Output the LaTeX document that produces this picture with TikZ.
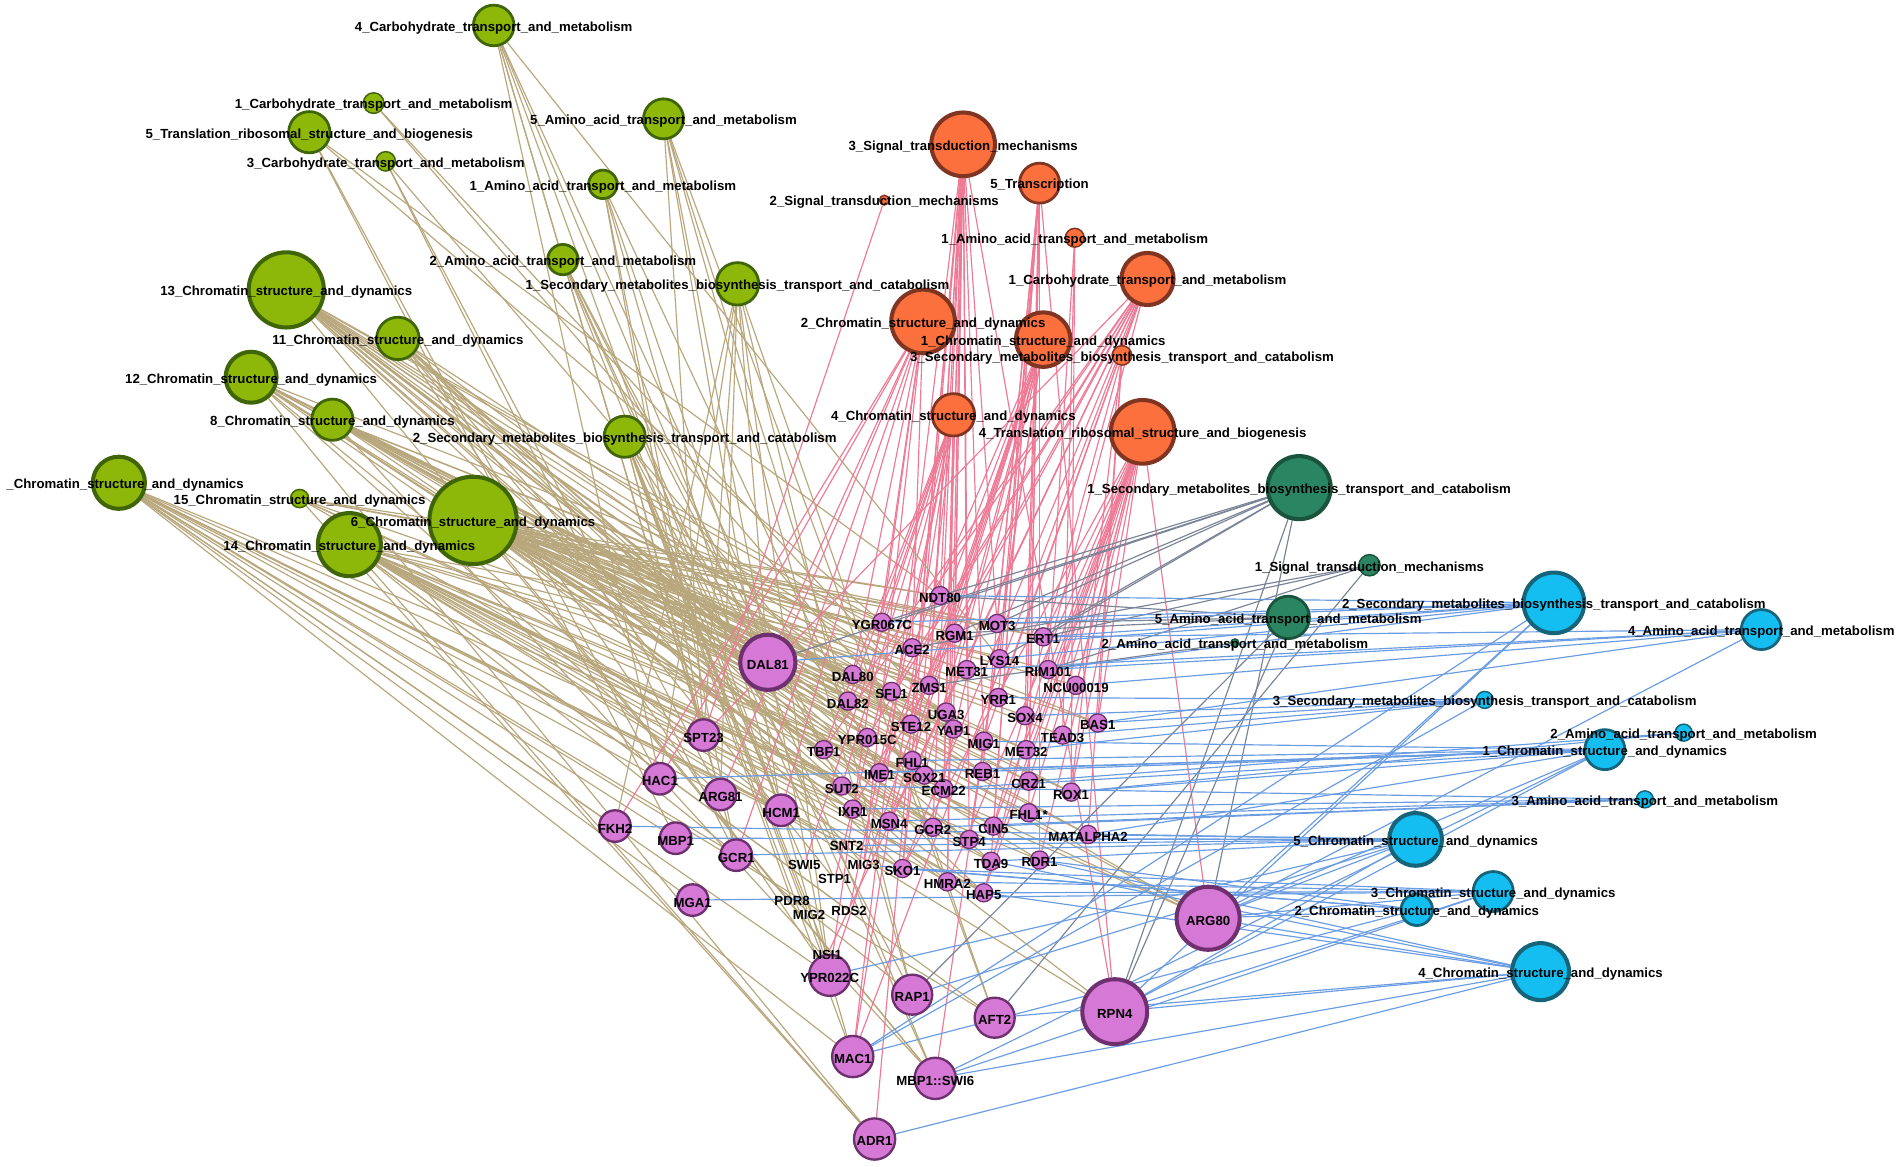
\documentclass[tikz,border=0pt]{standalone}
\usepackage{fontspec}
\setmainfont{Liberation Sans}
\usepackage{tikz}

\definecolor{catgreen}{RGB}{141,184,10}
\definecolor{catgreenrim}{RGB}{64,100,8}
\definecolor{catorange}{RGB}{252,112,62}
\definecolor{catorangerim}{RGB}{128,52,34}
\definecolor{catdark}{RGB}{42,134,98}
\definecolor{catdarkrim}{RGB}{26,84,60}
\definecolor{catblue}{RGB}{20,190,240}
\definecolor{catbluerim}{RGB}{22,100,122}
\definecolor{tfpink}{RGB}{214,120,214}
\definecolor{tfrim}{RGB}{110,48,110}
\definecolor{edgetan}{RGB}{184,166,124}
\definecolor{edgepink}{RGB}{238,122,150}
\definecolor{edgeblue}{RGB}{106,156,226}
\definecolor{edgegray}{RGB}{122,132,150}

\pgfdeclarelayer{edges}
\pgfdeclarelayer{labels}
\pgfsetlayers{edges,main,labels}

\begin{document}
\begin{tikzpicture}[x=0.02cm,y=-0.02cm,font=\fontsize{6.2}{7.4}\selectfont\bfseries]
    \tikzstyle{greencat} = [circle, inner sep=0pt,
fill=catgreen, draw=catgreenrim, line width=1.3pt]
    \tikzstyle{orangecat} = [circle, inner sep=0pt,
fill=catorange, draw=catorangerim, line width=1.3pt]
    \tikzstyle{darkcat} = [circle, inner sep=0pt,
fill=catdark, draw=catdarkrim, line width=1.3pt]
    \tikzstyle{bluecat} = [circle, inner sep=0pt,
fill=catblue, draw=catbluerim, line width=1.3pt]
    \tikzstyle{tf} = [circle, inner sep=0pt,
minimum size=0.52cm,
fill=tfpink, draw=tfrim, line width=1.1pt]
    \tikzstyle{tfsmall} = [tf, minimum size=0.30cm, line width=0.6pt]
    \tikzstyle{heavy} = [line width=1.9pt]
    \tikzstyle{thin} = [line width=0.7pt]
    \tikzstyle{tag} = [inner sep=0pt, yshift=-0.04cm]
    \tikzstyle{tanline} = [draw=edgetan, line width=0.55pt]
    \tikzstyle{pinkline} = [draw=edgepink, line width=0.55pt]
    \tikzstyle{grayline} = [draw=edgegray, line width=0.55pt]
    \tikzstyle{blueline} = [draw=edgeblue, line width=0.55pt]

\useasboundingbox (0,0) rectangle (1568,962);

% green topics
\node (g4carb) [greencat, minimum size=0.67cm] at (407,21) {};
\node (g1carb) [greencat, thin, minimum size=0.34cm] at (308,85) {};
\node (g5trans) [greencat, minimum size=0.68cm] at (255,109) {};
\node (g3carb) [greencat, thin, minimum size=0.32cm] at (318,133) {};
\node (g5amino) [greencat, minimum size=0.66cm] at (547,98) {};
\node (g1amino) [greencat, minimum size=0.47cm] at (497,152) {};
\node (g2amino) [greencat, minimum size=0.50cm] at (464,214) {};
\node (g1sec) [greencat, minimum size=0.70cm] at (608,234) {};
\node (g13chr) [greencat, heavy, minimum size=1.24cm] at (236,239) {};
\node (g11chr) [greencat, minimum size=0.70cm] at (328,279) {};
\node (g12chr) [greencat, heavy, minimum size=0.84cm] at (207,311) {};
\node (g8chr) [greencat, minimum size=0.68cm] at (274,346) {};
\node (g2sec) [greencat, minimum size=0.68cm] at (515,360) {};
\node (gXchr) [greencat, heavy, minimum size=0.86cm] at (98,398) {};
\node (g15chr) [greencat, thin, minimum size=0.30cm] at (247,411) {};
\node (g6chr) [greencat, heavy, minimum size=1.44cm] at (390,429) {};
\node (g14chr) [greencat, heavy, minimum size=1.04cm] at (288,449) {};

% orange topics
\node (o3signal) [orangecat, heavy, minimum size=1.05cm] at (794,119) {};
\node (o5trans) [orangecat, minimum size=0.66cm] at (857,151) {};
\node (o2signal) [orangecat, thin, minimum size=0.16cm] at (729,165) {};
\node (o1amino) [orangecat, thin, minimum size=0.31cm] at (886,196) {};
\node (o1carb) [orangecat, heavy, minimum size=0.86cm] at (946,230) {};
\node (o2chr) [orangecat, heavy, minimum size=1.05cm] at (761,265) {};
\node (o1chr) [orangecat, heavy, minimum size=0.90cm] at (860,280) {};
\node (o3sec) [orangecat, thin, minimum size=0.32cm] at (925,293) {};
\node (o4chr) [orangecat, minimum size=0.70cm] at (786,342) {};
\node (o4trans) [orangecat, heavy, minimum size=1.05cm] at (942,356) {};

% dark green topics
\node (d1second) [darkcat, heavy, minimum size=1.04cm] at (1071,402) {};
\node (d2signal) [darkcat, thin, minimum size=0.35cm] at (1129,466) {};
\node (d3amino) [darkcat, minimum size=0.70cm] at (1062,509) {};
\node (d4amino) [darkcat, thin, minimum size=0.13cm] at (1018,530) {};

% blue topics
\node (b2second) [bluecat, heavy, minimum size=1.00cm] at (1281,497) {};
\node (b4amino) [bluecat, minimum size=0.66cm] at (1452,519) {};
\node (b3second) [bluecat, thin, minimum size=0.28cm] at (1224,577) {};
\node (b2amino) [bluecat, thin, minimum size=0.28cm] at (1388,604) {};
\node (b1chrom) [bluecat, minimum size=0.66cm] at (1323,618) {};
\node (b3amino) [bluecat, thin, minimum size=0.28cm] at (1356,659) {};
\node (b5chrom) [bluecat, heavy, minimum size=0.87cm] at (1167,692) {};
\node (b3chrom) [bluecat, minimum size=0.66cm] at (1231,735) {};
\node (b2chrom) [bluecat, minimum size=0.52cm] at (1168,750) {};
\node (b4chrom) [bluecat, heavy, minimum size=0.94cm] at (1270,801) {};

% regulators
\node (DAL81) [tf, heavy, minimum size=0.91cm] at (633,546) {};
\node (ARG80) [tf, heavy, minimum size=1.04cm] at (996,757) {};
\node (RPN4) [tf, heavy, minimum size=1.07cm] at (919,834) {};
\node (YPR022C) [tf, minimum size=0.68cm] at (684,804) {};
\node (RAP1) [tf, minimum size=0.66cm] at (752,820) {};
\node (AFT2) [tf, minimum size=0.66cm] at (820,839) {};
\node (MAC1) [tf, minimum size=0.68cm] at (703,871) {};
\node (MBP1SWI6) [tf, minimum size=0.68cm] at (771,889) {};
\node (ADR1) [tf, minimum size=0.68cm] at (721,939) {};
\node (MGA1) [tf] at (571,742) {};
\node (MBP1) [tf] at (557,691) {};
\node (FKH2) [tf] at (507,681) {};
\node (GCR1) [tf] at (607,705) {};
\node (HCM1) [tf] at (644,668) {};
\node (HAC1) [tf] at (544,642) {};
\node (ARG81) [tf] at (594,655) {};
\node (SPT23) [tf] at (580,606) {};
\node (NDT80) [tfsmall] at (775,491) {};
\node (YGR067C) [tfsmall] at (727,513) {};
\node (MOT3) [tfsmall] at (822,514) {};
\node (RGM1) [tfsmall] at (787,522) {};
\node (ACE2) [tfsmall] at (752,534) {};
\node (ERT1) [tfsmall] at (860,525) {};
\node (LYS14) [tfsmall] at (824,543) {};
\node (DAL80) [tfsmall] at (703,556) {};
\node (MET31) [tfsmall] at (797,552) {};
\node (RIM101) [tfsmall] at (864,552) {};
\node (NCU00019) [tfsmall] at (887,565) {};
\node (ZMS1) [tfsmall] at (766,565) {};
\node (SFL1) [tfsmall] at (735,570) {};
\node (DAL82) [tfsmall] at (699,578) {};
\node (YRR1) [tfsmall] at (823,575) {};
\node (UGA3) [tfsmall] at (780,587) {};
\node (SOX4) [tfsmall] at (845,590) {};
\node (BAS1) [tfsmall] at (905,596) {};
\node (STE12) [tfsmall] at (751,597) {};
\node (YAP1) [tfsmall] at (786,601) {};
\node (TEAD3) [tfsmall] at (876,606) {};
\node (YPR015C) [tfsmall] at (715,608) {};
\node (MIG1) [tfsmall] at (811,611) {};
\node (MET32) [tfsmall] at (846,618) {};
\node (TBF1) [tfsmall] at (679,618) {};
\node (FHL1) [tfsmall] at (752,627) {};
\node (IME1) [tfsmall] at (725,637) {};
\node (SOX21) [tfsmall] at (762,639) {};
\node (REB1) [tfsmall] at (810,636) {};
\node (CRZ1) [tfsmall] at (848,644) {};
\node (ECM22) [tfsmall] at (778,650) {};
\node (SUT2) [tfsmall] at (694,648) {};
\node (ROX1) [tfsmall] at (883,653) {};
\node (IXR1) [tfsmall] at (703,667) {};
\node (MSN4) [tfsmall] at (733,677) {};
\node (FHLstar) [tfsmall] at (848,670) {};
\node (GCR2) [tfsmall] at (769,682) {};
\node (CIN5) [tfsmall] at (819,681) {};
\node (MATALPHA2) [tfsmall] at (897,688) {};
\node (STP4) [tfsmall] at (799,692) {};
\node (SKO1) [tfsmall] at (744,716) {};
\node (TDA9) [tfsmall] at (817,710) {};
\node (RDR1) [tfsmall] at (857,709) {};
\node (HMRA2) [tfsmall] at (781,727) {};
\node (HAP5) [tfsmall] at (811,736) {};

\begin{pgfonlayer}{labels}
\node (g4carb-t) [tag] at (g4carb) {4\_Carbohydrate\_transport\_and\_metabolism};
\node (g1carb-t) [tag] at (g1carb) {1\_Carbohydrate\_transport\_and\_metabolism};
\node (g5trans-t) [tag] at (g5trans) {5\_Translation\_ribosomal\_structure\_and\_biogenesis};
\node (g3carb-t) [tag] at (g3carb) {3\_Carbohydrate\_transport\_and\_metabolism};
\node (g5amino-t) [tag] at (g5amino) {5\_Amino\_acid\_transport\_and\_metabolism};
\node (g1amino-t) [tag] at (g1amino) {1\_Amino\_acid\_transport\_and\_metabolism};
\node (g2amino-t) [tag] at (g2amino) {2\_Amino\_acid\_transport\_and\_metabolism};
\node (g1sec-t) [tag] at (g1sec) {1\_Secondary\_metabolites\_biosynthesis\_transport\_and\_catabolism};
\node (g13chr-t) [tag] at (g13chr) {13\_Chromatin\_structure\_and\_dynamics};
\node (g11chr-t) [tag] at (g11chr) {11\_Chromatin\_structure\_and\_dynamics};
\node (g12chr-t) [tag] at (g12chr) {12\_Chromatin\_structure\_and\_dynamics};
\node (g8chr-t) [tag] at (g8chr) {8\_Chromatin\_structure\_and\_dynamics};
\node (g2sec-t) [tag] at (g2sec) {2\_Secondary\_metabolites\_biosynthesis\_transport\_and\_catabolism};
\node (gXchr-t) [tag, anchor=west] at (5,398) {\_Chromatin\_structure\_and\_dynamics};
\node (g15chr-t) [tag] at (g15chr) {15\_Chromatin\_structure\_and\_dynamics};
\node (g6chr-t) [tag] at (g6chr) {6\_Chromatin\_structure\_and\_dynamics};
\node (g14chr-t) [tag] at (g14chr) {14\_Chromatin\_structure\_and\_dynamics};

\node (o3signal-t) [tag] at (o3signal) {3\_Signal\_transduction\_mechanisms};
\node (o5trans-t) [tag] at (o5trans) {5\_Transcription};
\node (o2signal-t) [tag] at (o2signal) {2\_Signal\_transduction\_mechanisms};
\node (o1amino-t) [tag] at (o1amino) {1\_Amino\_acid\_transport\_and\_metabolism};
\node (o1carb-t) [tag] at (o1carb) {1\_Carbohydrate\_transport\_and\_metabolism};
\node (o2chr-t) [tag] at (o2chr) {2\_Chromatin\_structure\_and\_dynamics};
\node (o1chr-t) [tag] at (o1chr) {1\_Chromatin\_structure\_and\_dynamics};
\node (o3sec-t) [tag] at (o3sec) {3\_Secondary\_metabolites\_biosynthesis\_transport\_and\_catabolism};
\node (o4chr-t) [tag] at (o4chr) {4\_Chromatin\_structure\_and\_dynamics};
\node (o4trans-t) [tag] at (o4trans) {4\_Translation\_ribosomal\_structure\_and\_biogenesis};

\node (d1second-t) [tag] at (d1second) {1\_Secondary\_metabolites\_biosynthesis\_transport\_and\_catabolism};
\node (d2signal-t) [tag] at (d2signal) {1\_Signal\_transduction\_mechanisms};
\node (d3amino-t) [tag] at (d3amino) {5\_Amino\_acid\_transport\_and\_metabolism};
\node (d4amino-t) [tag] at (d4amino) {2\_Amino\_acid\_transport\_and\_metabolism};

\node (b2second-t) [tag] at (b2second) {2\_Secondary\_metabolites\_biosynthesis\_transport\_and\_catabolism};
\node (b4amino-t) [tag] at (b4amino) {4\_Amino\_acid\_transport\_and\_metabolism};
\node (b3second-t) [tag] at (b3second) {3\_Secondary\_metabolites\_biosynthesis\_transport\_and\_catabolism};
\node (b2amino-t) [tag] at (b2amino) {2\_Amino\_acid\_transport\_and\_metabolism};
\node (b1chrom-t) [tag] at (b1chrom) {1\_Chromatin\_structure\_and\_dynamics};
\node (b3amino-t) [tag] at (b3amino) {3\_Amino\_acid\_transport\_and\_metabolism};
\node (b5chrom-t) [tag] at (b5chrom) {5\_Chromatin\_structure\_and\_dynamics};
\node (b3chrom-t) [tag] at (b3chrom) {3\_Chromatin\_structure\_and\_dynamics};
\node (b2chrom-t) [tag] at (b2chrom) {2\_Chromatin\_structure\_and\_dynamics};
\node (b4chrom-t) [tag] at (b4chrom) {4\_Chromatin\_structure\_and\_dynamics};

\node (DAL81-t) [tag] at (DAL81) {DAL81};
\node (ARG80-t) [tag] at (ARG80) {ARG80};
\node (RPN4-t) [tag] at (RPN4) {RPN4};
\node (YPR022C-t) [tag] at (YPR022C) {YPR022C};
\node (RAP1-t) [tag] at (RAP1) {RAP1};
\node (AFT2-t) [tag] at (AFT2) {AFT2};
\node (MAC1-t) [tag] at (MAC1) {MAC1};
\node (MBP1SWI6-t) [tag] at (MBP1SWI6) {MBP1::SWI6};
\node (ADR1-t) [tag] at (ADR1) {ADR1};
\node (MGA1-t) [tag] at (MGA1) {MGA1};
\node (MBP1-t) [tag] at (MBP1) {MBP1};
\node (FKH2-t) [tag] at (FKH2) {FKH2};
\node (GCR1-t) [tag] at (GCR1) {GCR1};
\node (HCM1-t) [tag] at (HCM1) {HCM1};
\node (HAC1-t) [tag] at (HAC1) {HAC1};
\node (ARG81-t) [tag] at (ARG81) {ARG81};
\node (SPT23-t) [tag] at (SPT23) {SPT23};
\node (NDT80-t) [tag] at (NDT80) {NDT80};
\node (YGR067C-t) [tag] at (YGR067C) {YGR067C};
\node (MOT3-t) [tag] at (MOT3) {MOT3};
\node (RGM1-t) [tag] at (RGM1) {RGM1};
\node (ACE2-t) [tag] at (ACE2) {ACE2};
\node (ERT1-t) [tag] at (ERT1) {ERT1};
\node (LYS14-t) [tag] at (LYS14) {LYS14};
\node (DAL80-t) [tag] at (DAL80) {DAL80};
\node (MET31-t) [tag] at (MET31) {MET31};
\node (RIM101-t) [tag] at (RIM101) {RIM101};
\node (NCU00019-t) [tag] at (NCU00019) {NCU00019};
\node (ZMS1-t) [tag] at (ZMS1) {ZMS1};
\node (SFL1-t) [tag] at (SFL1) {SFL1};
\node (DAL82-t) [tag] at (DAL82) {DAL82};
\node (YRR1-t) [tag] at (YRR1) {YRR1};
\node (UGA3-t) [tag] at (UGA3) {UGA3};
\node (SOX4-t) [tag] at (SOX4) {SOX4};
\node (BAS1-t) [tag] at (BAS1) {BAS1};
\node (STE12-t) [tag] at (STE12) {STE12};
\node (YAP1-t) [tag] at (YAP1) {YAP1};
\node (TEAD3-t) [tag] at (TEAD3) {TEAD3};
\node (YPR015C-t) [tag] at (YPR015C) {YPR015C};
\node (MIG1-t) [tag] at (MIG1) {MIG1};
\node (MET32-t) [tag] at (MET32) {MET32};
\node (TBF1-t) [tag] at (TBF1) {TBF1};
\node (FHL1-t) [tag] at (FHL1) {FHL1};
\node (IME1-t) [tag] at (IME1) {IME1};
\node (SOX21-t) [tag] at (SOX21) {SOX21};
\node (REB1-t) [tag] at (REB1) {REB1};
\node (CRZ1-t) [tag] at (CRZ1) {CRZ1};
\node (ECM22-t) [tag] at (ECM22) {ECM22};
\node (SUT2-t) [tag] at (SUT2) {SUT2};
\node (ROX1-t) [tag] at (ROX1) {ROX1};
\node (IXR1-t) [tag] at (IXR1) {IXR1};
\node (MSN4-t) [tag] at (MSN4) {MSN4};
\node (FHLstar-t) [tag] at (FHLstar) {FHL1*};
\node (GCR2-t) [tag] at (GCR2) {GCR2};
\node (CIN5-t) [tag] at (CIN5) {CIN5};
\node (MATALPHA2-t) [tag] at (MATALPHA2) {MATALPHA2};
\node (STP4-t) [tag] at (STP4) {STP4};
\node (SKO1-t) [tag] at (SKO1) {SKO1};
\node (TDA9-t) [tag] at (TDA9) {TDA9};
\node (RDR1-t) [tag] at (RDR1) {RDR1};
\node (HMRA2-t) [tag] at (HMRA2) {HMRA2};
\node (HAP5-t) [tag] at (HAP5) {HAP5};
% regulators shown by their name only
\node (SNT2) [tag] at (698,695) {SNT2};
\node (SWI5) [tag] at (663,711) {SWI5};
\node (MIG3) [tag] at (712,711) {MIG3};
\node (STP1) [tag] at (688,723) {STP1};
\node (PDR8) [tag] at (653,741) {PDR8};
\node (MIG2) [tag] at (667,752) {MIG2};
\node (RDS2) [tag] at (700,749) {RDS2};
\node (NSI1) [tag] at (682,785) {NSI1};
\end{pgfonlayer}

\begin{pgfonlayer}{edges}
% green cluster
\draw [tanline] (g4carb) edge (HAC1) edge (SPT23) edge (ARG81) edge (HCM1) edge (TBF1) edge (LYS14) edge (MBP1SWI6);
\draw [tanline] (g1carb) edge (YAP1) edge (STE12);
\draw [tanline] (g5trans) edge (HAC1) edge (MBP1) edge (NDT80) edge (YGR067C);
\draw [tanline] (g3carb) edge (ARG81) edge (GCR1) edge (DAL82);
\draw [tanline] (g5amino) edge (SPT23) edge (HCM1) edge (YPR022C) edge (RAP1) edge (AFT2) edge (DAL82);
\draw [tanline] (g1amino) edge (SPT23) edge (GCR1) edge (MAC1) edge (DAL81) edge (IME1);
\draw [tanline] (g2amino) edge (DAL81) edge (HCM1) edge (MBP1SWI6) edge (SUT2) edge (STP1);
\draw [tanline] (g1sec) edge (SPT23) edge (HAC1) edge (ARG81) edge (DAL81) edge (RAP1) edge (AFT2) edge (YPR022C) edge (FKH2);
\draw [tanline] (g13chr) edge (DAL81) edge (YGR067C) edge (ACE2) edge (SFL1) edge (STE12) edge (DAL82) edge (YPR015C) edge (UGA3) edge (REB1) edge (SOX21) edge (ECM22) edge (GCR2) edge (HMRA2) edge (SKO1) edge (MBP1SWI6) edge (ZMS1) edge (IME1) edge (MSN4);
\draw [tanline] (g11chr) edge (DAL81) edge (DAL80) edge (ZMS1) edge (IME1) edge (MSN4) edge (MIG3) edge (STP1) edge (HAP5) edge (TDA9) edge (YPR022C);
\draw [tanline] (g12chr) edge (YGR067C) edge (DAL80) edge (SFL1) edge (TBF1) edge (IME1) edge (SUT2) edge (REB1) edge (ROX1) edge (MATALPHA2) edge (ADR1) edge (HCM1) edge (ARG81) edge (MIG1) edge (STP4);
\draw [tanline] (g8chr) edge (DAL81) edge (ACE2) edge (STE12) edge (YAP1) edge (MET32) edge (CRZ1) edge (BAS1) edge (MBP1SWI6) edge (FHL1) edge (GCR2) edge (CIN5) edge (ARG80);
\draw [tanline] (g2sec) edge (DAL81) edge (SPT23) edge (HCM1) edge (GCR1) edge (MAC1) edge (RAP1) edge (YPR022C) edge (NSI1) edge (SWI5) edge (PDR8) edge (MIG2);
\draw [tanline] (g15chr) edge (DAL81) edge (NDT80) edge (MOT3) edge (ERT1) edge (ADR1) edge (ECM22) edge (HAP5) edge (ARG80);
\draw [tanline] (gXchr) edge (FKH2) edge (MGA1) edge (MBP1) edge (MAC1) edge (GCR1) edge (HAC1) edge (ARG81) edge (HCM1) edge (YPR022C) edge (AFT2) edge (SKO1) edge (RDR1) edge (IXR1) edge (SNT2);
\draw [tanline] (g6chr) edge (NDT80) edge (RGM1) edge (MOT3) edge (ERT1) edge (LYS14) edge (MET31) edge (RIM101) edge (NCU00019) edge (ZMS1) edge (YRR1) edge (SOX4) edge (BAS1) edge (TEAD3) edge (MIG1) edge (MET32) edge (FHL1) edge (REB1) edge (CRZ1) edge (ROX1) edge (FHLstar) edge (MATALPHA2) edge (CIN5) edge (STP4) edge (TDA9) edge (RDR1) edge (HAP5) edge (ARG80) edge (RPN4) edge (MBP1SWI6) edge (UGA3) edge (YAP1) edge (DAL80) edge (SFL1) edge (STE12) edge (MSN4);
\draw [tanline] (g14chr) edge (ACE2) edge (ZMS1) edge (UGA3) edge (YAP1) edge (SOX21) edge (ECM22) edge (GCR2) edge (MSN4) edge (STP4) edge (TDA9) edge (HMRA2) edge (HAP5) edge (RAP1) edge (ADR1) edge (RPN4) edge (ARG80) edge (IXR1) edge (SUT2) edge (SKO1) edge (AFT2) edge (MIG3) edge (RDS2);

% orange cluster
\draw [pinkline] (o3signal) edge (NDT80) edge (RGM1) edge (MET31) edge (ZMS1) edge (UGA3) edge (YAP1) edge (MIG1) edge (STE12) edge (SOX21) edge (ECM22) edge (GCR2) edge (STP4) edge (HMRA2) edge (RPN4) edge (ADR1) edge (MOT3) edge (SKO1) edge (MAC1);
\draw [pinkline] (o5trans) edge (MOT3) edge (LYS14) edge (YRR1) edge (MET32) edge (REB1) edge (CIN5) edge (RPN4) edge (CRZ1) edge (RDR1) edge (FHLstar) edge (TDA9) edge (SOX4);
\draw [pinkline] (o2signal) edge (SPT23);
\draw [pinkline] (o1amino) edge (RIM101) edge (TEAD3) edge (ROX1);
\draw [pinkline] (o1carb) edge (DAL82) edge (SFL1) edge (YPR015C) edge (TBF1) edge (IME1) edge (IXR1) edge (MSN4) edge (SKO1) edge (MAC1) edge (NSI1) edge (YRR1) edge (MIG1) edge (HAP5) edge (SPT23);
\draw [pinkline] (o2chr) edge (DAL81) edge (FKH2) edge (HAC1) edge (ARG81) edge (DAL80) edge (YGR067C) edge (ACE2) edge (GCR1) edge (HCM1) edge (MIG3) edge (YPR022C);
\draw [pinkline] (o1chr) edge (ACE2) edge (STE12) edge (FHL1) edge (SOX21) edge (IME1) edge (GCR2) edge (MSN4) edge (YPR022C) edge (ZMS1) edge (UGA3) edge (STP4) edge (MBP1SWI6);
\draw [pinkline] (o3sec) edge (BAS1) edge (MATALPHA2) edge (ROX1) edge (CIN5);
\draw [pinkline] (o4chr) edge (YGR067C) edge (DAL82) edge (TBF1) edge (SUT2) edge (MIG3) edge (SWI5) edge (RDS2) edge (ECM22) edge (SKO1) edge (HMRA2) edge (MAC1) edge (STP1);
\draw [pinkline] (o4trans) edge (ARG80) edge (NCU00019) edge (BAS1) edge (TEAD3) edge (MET32) edge (CRZ1) edge (ROX1) edge (RDR1) edge (TDA9) edge (CIN5) edge (HAP5) edge (HMRA2) edge (SKO1) edge (FHLstar) edge (RIM101) edge (ERT1);

% dark green cluster
\draw [grayline] (d1second) edge (NDT80) edge (YGR067C) edge (MOT3) edge (ERT1) edge (ARG80) edge (RPN4) edge (LYS14) edge (RGM1) edge (DAL81);
\draw [grayline] (d2signal) edge (ERT1) edge (AFT2) edge (RIM101) edge (ACE2);
\draw [grayline] (d3amino) edge (RAP1) edge (MOT3) edge (RGM1) edge (NDT80) edge (RPN4);
\draw [grayline] (d4amino) edge (ZMS1);

% blue cluster
\draw [blueline] (b2second) edge (DAL81) edge (NDT80) edge (YGR067C) edge (ERT1) edge (RIM101) edge (MOT3) edge (RPN4) edge (MAC1) edge (ARG80) edge (LYS14);
\draw [blueline] (b4amino) edge (ERT1) edge (NCU00019) edge (ARG80) edge (BAS1) edge (MET31) edge (RIM101);
\draw [blueline] (b3second) edge (SOX4) edge (BAS1) edge (TEAD3) edge (MET32) edge (YRR1) edge (MAC1);
\draw [blueline] (b2amino) edge (ROX1) edge (CRZ1);
\draw [blueline] (b1chrom) edge (HAC1) edge (IME1) edge (REB1) edge (ECM22) edge (ROX1) edge (MATALPHA2) edge (ARG80) edge (RPN4) edge (FHL1) edge (MIG1) edge (MBP1SWI6);
\draw [blueline] (b3amino) edge (IXR1) edge (MSN4) edge (GCR2) edge (CIN5) edge (SUT2);
\draw [blueline] (b5chrom) edge (FKH2) edge (MBP1) edge (RAP1) edge (YPR022C) edge (ARG80) edge (RPN4) edge (STP4) edge (TDA9) edge (MATALPHA2) edge (GCR1) edge (SNT2);
\draw [blueline] (b3chrom) edge (MGA1) edge (HMRA2) edge (HAP5) edge (ARG80) edge (RPN4) edge (SKO1) edge (MBP1SWI6);
\draw [blueline] (b2chrom) edge (MIG3) edge (ARG80) edge (RDR1) edge (SKO1) edge (MAC1);
\draw [blueline] (b4chrom) edge (ADR1) edge (RPN4) edge (AFT2) edge (ARG80) edge (RDR1) edge (HAP5) edge (TDA9) edge (MBP1SWI6);
\end{pgfonlayer}

\end{tikzpicture}
\end{document}
